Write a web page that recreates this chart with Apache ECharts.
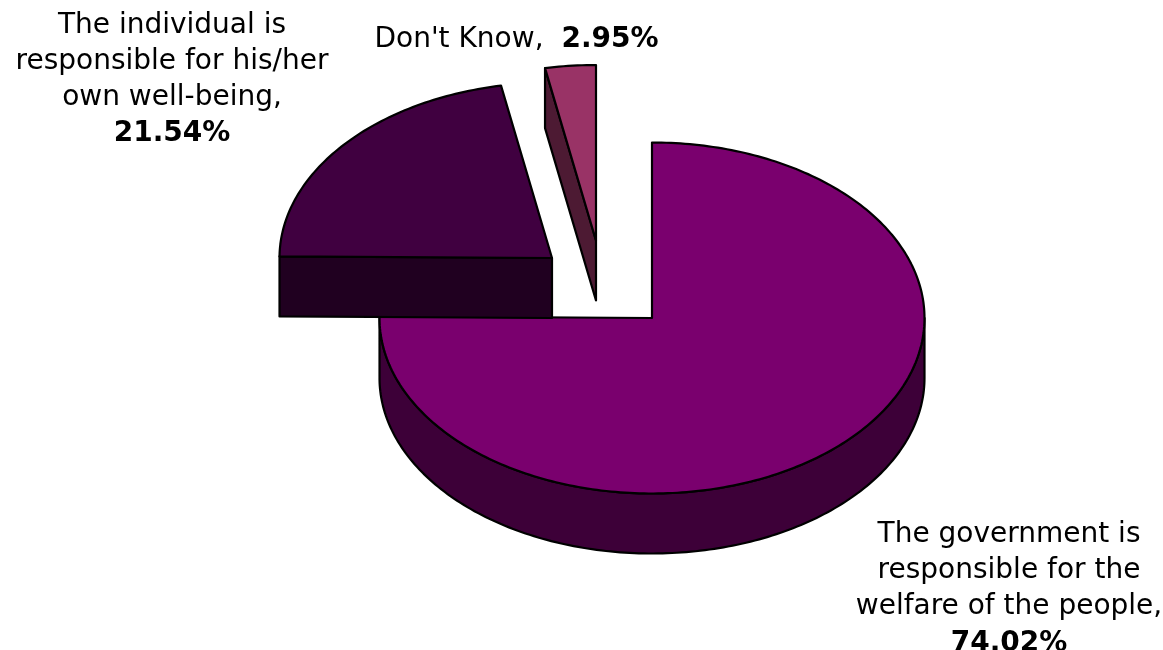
<!DOCTYPE html>
<html><head><meta charset="utf-8">
<script src="https://cdn.jsdelivr.net/npm/echarts@6/dist/echarts.min.js"></script>
<style>html,body{margin:0;padding:0;background:#fff}#c{width:1163px;height:650px}</style>
</head><body><div id="c"></div>
<script>
// Data
var categories = ['The government is responsible for the welfare of the people', 'The individual is responsible for his/her own well-being', "Don't Know"];
var percentages = [74.02, 21.54, 2.95];
var labelTexts = [
  ['The government is', 'responsible for the', 'welfare of the people,'],
  ['The individual is', 'responsible for his/her', 'own well-being,'],
  ["Don't Know,"]
];
// Style and layout
var topColors = ['#7a006e', '#400040', '#993366'];
var sideColors = ['#3d0038', '#200020', '#4d1a33'];
var RX = 272.5, RY = 175.5, DEPTH = 60;
var centers = [[652, 318], [552, 258], [596, 240.5]];
var labelPos = [[1009, 534.5, 36.3], [172, 26, 36], [459, 40, 0]];
var BOLD_X = 610;
var FONT = 'DejaVu Sans, Verdana, sans-serif';
var FS = 28;

var total = percentages.reduce(function (a, b) { return a + b; }, 0);
function startAngle(i) {
  var s = 0;
  for (var k = 0; k < i; k++) s += percentages[k];
  return s / total * 360;
}
function pt(c, deg, dy) {
  var r = deg * Math.PI / 180;
  return [c[0] + RX * Math.sin(r), c[1] - RY * Math.cos(r) + (dy || 0)];
}
function arc(c, a0, a1, dy) {
  var pts = [], n = Math.max(2, Math.ceil(Math.abs(a1 - a0)));
  for (var j = 0; j <= n; j++) pts.push(pt(c, a0 + (a1 - a0) * j / n, dy));
  return pts;
}
function poly(points, fill) {
  return { type: 'polygon', shape: { points: points },
    style: { fill: fill, stroke: '#000', lineWidth: 2.2, lineJoin: 'round' } };
}
function txt(x, y, s, bold) {
  return { type: 'text', x: x, y: y,
    style: { text: s, fill: '#000', font: (bold ? 'bold ' : '') + FS + 'px ' + FONT, align: 'center', verticalAlign: 'middle' } };
}
function renderSlice(params, api) {
  var i = params.dataIndex, c = centers[i];
  var a0 = startAngle(i), a1 = a0 + api.value(1) / total * 360;
  var kids = [];
  if (i === 0) {
    // outer wall: the part of the rim that faces the viewer
    var wall = arc(c, 90, a1, 0).concat(arc(c, a1, 90, DEPTH));
    kids.push(poly(wall, sideColors[i]));
  } else {
    // cut face of the exploded slice
    var p = pt(c, a0);
    kids.push(poly([p, c, [c[0], c[1] + DEPTH], [p[0], p[1] + DEPTH]], sideColors[i]));
  }
  kids.push(poly([c].concat(arc(c, a0, a1)), topColors[i]));
  var lp = labelPos[i], lines = labelTexts[i];
  if (i === 2) {
    kids.push(txt(lp[0], lp[1], lines[0], false));
    kids.push(txt(BOLD_X, lp[1], api.value(1).toFixed(2) + '%', true));
  } else {
    lines.forEach(function (s, k) { kids.push(txt(lp[0], lp[1] + k * lp[2], s, false)); });
    kids.push(txt(lp[0], lp[1] + lines.length * lp[2], api.value(1).toFixed(2) + '%', true));
  }
  return { type: 'group', children: kids };
}
var chart = echarts.init(document.getElementById('c'), null, { renderer: 'canvas' });
chart.setOption({
  animation: false,
  backgroundColor: '#fff',
  series: [{
    type: 'custom',
    coordinateSystem: 'none',
    renderItem: renderSlice,
    data: categories.map(function (n, i) { return { name: n, value: [i, percentages[i]] }; })
  }]
});
</script></body></html>
